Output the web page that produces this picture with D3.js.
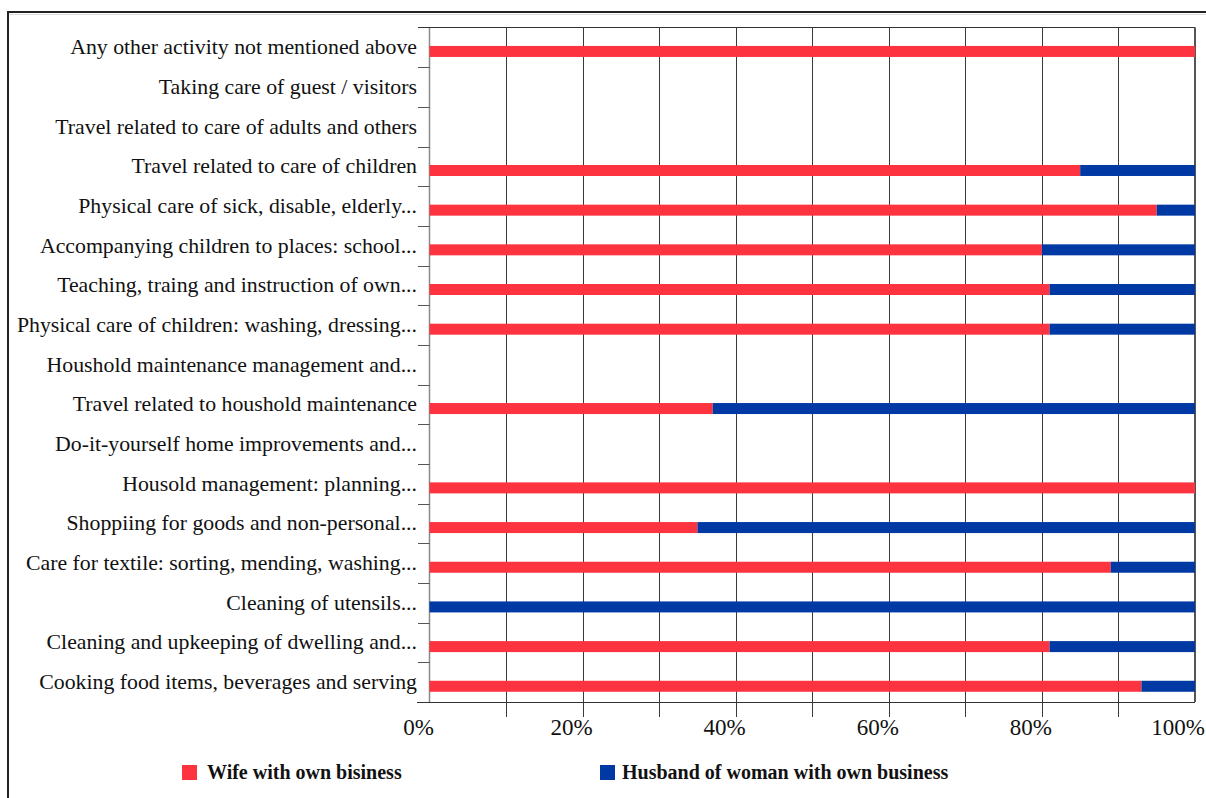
<!DOCTYPE html>
<html>
<head>
<meta charset="utf-8">
<script src="https://cdn.jsdelivr.net/npm/d3@7"></script>
<style>
  html, body { margin: 0; padding: 0; background: #fff; }
  svg { display: block; }
</style>
</head>
<body>
<svg id="chart" width="1206" height="798"></svg>
<script>
// Activities, listed top to bottom
const categories = [
  "Any other activity not mentioned above",
  "Taking care of guest / visitors",
  "Travel related to care of adults and others",
  "Travel related to care of  children",
  "Physical care of sick, disable, elderly...",
  "Accompanying children to places: school...",
  "Teaching, traing and instruction of own...",
  "Physical care of children: washing, dressing...",
  "Houshold maintenance management and...",
  "Travel related to houshold maintenance",
  "Do-it-yourself home improvements and...",
  "Housold management: planning...",
  "Shoppiing for goods and non-personal...",
  "Care for textile: sorting, mending, washing...",
  "Cleaning of utensils...",
  "Cleaning and upkeeping of dwelling and...",
  "Cooking food items, beverages and serving"
];

// Share of time (%) by person
const wifeValues    = [100, 0, 0, 85, 95, 80, 81, 81, 0, 37, 0, 100, 35, 89, 0, 81, 93];
const husbandValues = [0,   0, 0, 15,  5, 20, 19, 19, 0, 63, 0,   0, 65, 11, 100, 19, 7];

const seriesNames = ["Wife with own bisiness", "Husband of woman with own business"];
const seriesColors = ["#fd3340", "#0039a4"];

const tickValues = [0, 20, 40, 60, 80, 100];
const gridValues = [10, 20, 30, 40, 50, 60, 70, 80, 90];

const svg = d3.select("#chart");
const W = 1206, H = 798;

// Outer frame (left and top edges visible)
svg.append("path")
  .attr("d", `M8,${H} V12 H${W}`)
  .attr("fill", "none")
  .attr("stroke", "#222")
  .attr("stroke-width", 2);
svg.append("line")
  .attr("x1", 9).attr("x2", W).attr("y1", 14.5).attr("y2", 14.5)
  .attr("stroke", "#ddd").attr("stroke-width", 1);

const plot = { left: 429.5, right: 1195, top: 27.5, bottom: 702 };

const x = d3.scaleLinear().domain([0, 100]).range([plot.left, plot.right]);
const y = d3.scaleBand().domain(categories).range([plot.top, plot.bottom]).padding(0);

const g = svg.append("g");

// Vertical gridlines, extending below the axis as tick marks
g.selectAll("line.grid")
  .data(gridValues)
  .join("line")
  .attr("class", "grid")
  .attr("x1", d => Math.round(x(d)) + 0.5)
  .attr("x2", d => Math.round(x(d)) + 0.5)
  .attr("y1", plot.top)
  .attr("y2", plot.bottom + 15)
  .attr("stroke", "#3a3a3a")
  .attr("stroke-width", 1);

// Left axis line
g.append("line")
  .attr("x1", plot.left).attr("x2", plot.left)
  .attr("y1", plot.top).attr("y2", plot.bottom)
  .attr("stroke", "#8a8a8a").attr("stroke-width", 1.5);

// Right edge of plot area
g.append("line")
  .attr("x1", plot.right).attr("x2", plot.right)
  .attr("y1", plot.top).attr("y2", plot.bottom)
  .attr("stroke", "#555").attr("stroke-width", 2);

// Top edge of plot area
g.append("line")
  .attr("x1", 418).attr("x2", plot.right)
  .attr("y1", plot.top).attr("y2", plot.top)
  .attr("stroke", "#333").attr("stroke-width", 1.2);

// Bottom axis line
g.append("line")
  .attr("x1", 417).attr("x2", plot.right)
  .attr("y1", plot.bottom + 0.5).attr("y2", plot.bottom + 0.5)
  .attr("stroke", "#333").attr("stroke-width", 1.2);

// Category tick marks at row boundaries
const boundaries = categories.map(c => y(c)).slice(1);
g.selectAll("line.ctick")
  .data(boundaries)
  .join("line")
  .attr("class", "ctick")
  .attr("x1", 418).attr("x2", plot.left)
  .attr("y1", d => Math.round(d) + 0.5)
  .attr("y2", d => Math.round(d) + 0.5)
  .attr("stroke", "#555").attr("stroke-width", 1);

// Stacked bars
const rows = categories.map((c, i) => ({ cat: c, wife: wifeValues[i], husband: husbandValues[i] }));
const stack = d3.stack().keys(["wife", "husband"]);
const stacked = stack(rows);

const barOffset = y.bandwidth() * 0.465;
const barHeight = 11;

g.selectAll("g.series")
  .data(stacked)
  .join("g")
  .attr("class", "series")
  .attr("fill", (d, i) => seriesColors[i])
  .selectAll("rect")
  .data(d => d.filter(p => p[1] - p[0] > 0))
  .join("rect")
  .attr("x", d => x(d[0]))
  .attr("width", d => x(d[1]) - x(d[0]))
  .attr("y", d => y(d.data.cat) + barOffset)
  .attr("height", barHeight);

// Category labels
g.selectAll("text.cat")
  .data(categories)
  .join("text")
  .attr("class", "cat")
  .attr("x", 417)
  .attr("y", d => y(d) + y.bandwidth() / 2 + 7)
  .attr("text-anchor", "end")
  .attr("font-family", "'Liberation Serif', 'Times New Roman', serif")
  .attr("font-size", 21.8)
  .attr("fill", "#111")
  .text(d => d);

// Percentage tick labels (the last one is kept inside the page edge)
g.selectAll("text.tick")
  .data(tickValues)
  .join("text")
  .attr("class", "tick")
  .attr("x", d => d === 100 ? W - 1 : x(d) - 11)
  .attr("y", 735)
  .attr("text-anchor", d => d === 100 ? "end" : "middle")
  .attr("font-family", "'Liberation Serif', 'Times New Roman', serif")
  .attr("font-size", 23)
  .attr("fill", "#111")
  .text(d => d + "%");

// Legend
const legendX = [182, 600];
const legend = svg.selectAll("g.legend")
  .data(seriesNames)
  .join("g")
  .attr("class", "legend")
  .attr("transform", (d, i) => `translate(${legendX[i]},765)`);
legend.append("rect")
  .attr("width", 15).attr("height", 15)
  .attr("fill", (d, i) => seriesColors[i]);
legend.append("text")
  .attr("x", (d, i) => i === 0 ? 25 : 22)
  .attr("y", 14)
  .attr("font-family", "'Liberation Serif', 'Times New Roman', serif")
  .attr("font-weight", "bold")
  .attr("font-size", 20)
  .attr("fill", "#111")
  .text(d => d);
</script>
</body>
</html>
